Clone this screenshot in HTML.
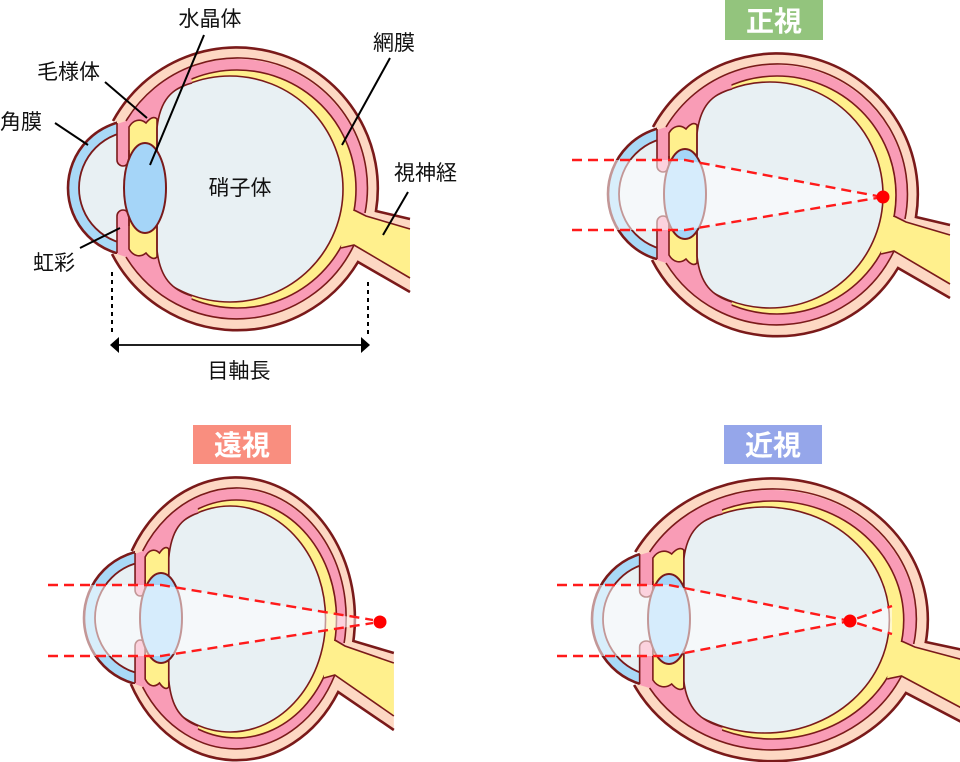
<!DOCTYPE html>
<html><head><meta charset="utf-8">
<style>
html,body{margin:0;padding:0;background:#fff;}
svg{display:block;}
.eb *{vector-effect:non-scaling-stroke;}
text{font-family:"Liberation Sans","Noto Sans CJK JP",sans-serif;}
</style></head>
<body>
<svg width="960" height="762" viewBox="0 0 960 762" xmlns="http://www.w3.org/2000/svg">

<!-- ===== EYE 1 (top-left) ===== -->
<g transform="translate(0,0)">
  <circle cx="136" cy="188" r="68" fill="#A9D9F7" stroke="#7A1A1A" stroke-width="2.6"/>
  <circle cx="136" cy="188" r="57" fill="#E8F0F3" stroke="#7A1A1A" stroke-width="1.8"/>
  <g class="eb" transform="translate(130,0) scale(1,1) translate(-130,0)">
    <path d="M113,121 A141,141 0 0 1 376,211 L410,219 L410,292 L358,262 A141,141 0 0 1 112,254 L117,254 L117,121 Z" fill="#FDD8C3"/>
    <path d="M126,121 A130,130 0 1 1 126,257 Z" fill="#F99CB6"/>
    <circle cx="237" cy="189" r="119" fill="#FFF08D" stroke="#7A1A1A" stroke-width="1.6"/>
    <circle cx="230" cy="189" r="113" fill="#E8F0F3" stroke="#7A1A1A" stroke-width="1.6"/>
    <path d="M190,68 A130,130 0 0 0 126,121 L117,124 L117,254 L126,257 A130,130 0 0 0 190,310 L192,296 C172,290 160,278 157,250 L157,128 C160,100 172,88 192,83 Z" fill="#F99CB6"/>
    <path d="M129,152 L129,127 C133,120 140,118 146,123 C150,118 154,116 157,119 L157,160 L129,160 Z" fill="#FFF08D" stroke="#7A1A1A" stroke-width="1.6"/>
    <path d="M129,224 L129,249 C133,256 140,258 146,253 C150,258 154,260 157,257 L157,216 L129,216 Z" fill="#FFF08D" stroke="#7A1A1A" stroke-width="1.6"/>
    <path d="M113,160 L117,160 A6,6 0 0 0 129,160 L136,160 L136,216 L129,216 A6,6 0 0 0 117,216 L113,216 Z" fill="#E8F0F3"/>
    <path d="M343,210 L354,211 L366,216 L410,229 L410,278 L354,245 L341,248 Z" fill="#FFF08D"/>
    <path d="M113,121 A141,141 0 0 1 376,211 L410,219 M410,292 L358,262 A141,141 0 0 1 112,254" fill="none" stroke="#7A1A1A" stroke-width="2.6"/>
    <path d="M126,121 A130,130 0 0 1 365,213 M354,245 A130,130 0 0 1 126,257" fill="none" stroke="#7A1A1A" stroke-width="1.6"/>
    <path d="M192,296 C172,290 160,278 157,250 L157,128 C160,100 172,88 192,83" fill="none" stroke="#7A1A1A" stroke-width="1.6"/>
    <path d="M117,123 L117,160 A6,6 0 0 0 129,160 L129,150 M117,253 L117,216 A6,6 0 0 1 129,216 L129,226" fill="none" stroke="#7A1A1A" stroke-width="1.6"/>
    <path d="M354,210 L366,216 L410,229 M410,278 L354,245 L341,248" fill="none" stroke="#7A1A1A" stroke-width="1.6"/>
  </g>
  <ellipse cx="145" cy="188" rx="21" ry="45" fill="#A5D5F8" stroke="#7A1A1A" stroke-width="2"/>
</g>

<!-- labels top-left -->
<g stroke="#000" stroke-width="2" fill="none">
  <line x1="204" y1="35" x2="150" y2="165"/>
  <line x1="390" y1="58" x2="342" y2="145"/>
  <line x1="105" y1="82" x2="147" y2="118"/>
  <line x1="55" y1="123" x2="88" y2="145"/>
  <line x1="80" y1="248" x2="120" y2="228"/>
  <line x1="408" y1="192" x2="383" y2="235"/>
  <line x1="112" y1="272" x2="112" y2="336" stroke-dasharray="4 4"/>
  <line x1="368" y1="282" x2="368" y2="336" stroke-dasharray="4 4"/>
  <line x1="117" y1="345" x2="362" y2="345" stroke-width="1.8"/>
</g>
<path d="M110,345 L119,337 L119,353 Z" fill="#000"/>
<path d="M370,345 L361,337 L361,353 Z" fill="#000"/>
<g font-size="21" fill="#111">
  <text x="210" y="26" text-anchor="middle">水晶体</text>
  <text x="373" y="50">網膜</text>
  <text x="37" y="79">毛様体</text>
  <text x="0" y="129">角膜</text>
  <text x="33" y="270">虹彩</text>
  <text x="240" y="195" text-anchor="middle">硝子体</text>
  <text x="394" y="180">視神経</text>
  <text x="239" y="378" text-anchor="middle">目軸長</text>
</g>

<!-- ===== EYE 2 (top-right, 正視) ===== -->
<g transform="translate(540,6)">
  <circle cx="136" cy="188" r="68" fill="#A9D9F7" stroke="#7A1A1A" stroke-width="2.6"/>
  <circle cx="136" cy="188" r="57" fill="#E8F0F3" stroke="#7A1A1A" stroke-width="1.8"/>
  <g class="eb" transform="translate(130,0) scale(1,1) translate(-130,0)">
    <path d="M113,121 A141,141 0 0 1 376,211 L410,219 L410,292 L358,262 A141,141 0 0 1 112,254 L117,254 L117,121 Z" fill="#FDD8C3"/>
    <path d="M126,121 A130,130 0 1 1 126,257 Z" fill="#F99CB6"/>
    <circle cx="237" cy="189" r="119" fill="#FFF08D" stroke="#7A1A1A" stroke-width="1.6"/>
    <circle cx="230" cy="189" r="113" fill="#E8F0F3" stroke="#7A1A1A" stroke-width="1.6"/>
    <path d="M190,68 A130,130 0 0 0 126,121 L117,124 L117,254 L126,257 A130,130 0 0 0 190,310 L192,296 C172,290 160,278 157,250 L157,128 C160,100 172,88 192,83 Z" fill="#F99CB6"/>
    <path d="M129,152 L129,127 C133,120 140,118 146,123 C150,118 154,116 157,119 L157,160 L129,160 Z" fill="#FFF08D" stroke="#7A1A1A" stroke-width="1.6"/>
    <path d="M129,224 L129,249 C133,256 140,258 146,253 C150,258 154,260 157,257 L157,216 L129,216 Z" fill="#FFF08D" stroke="#7A1A1A" stroke-width="1.6"/>
    <path d="M113,160 L117,160 A6,6 0 0 0 129,160 L136,160 L136,216 L129,216 A6,6 0 0 0 117,216 L113,216 Z" fill="#E8F0F3"/>
    <path d="M343,210 L354,211 L366,216 L410,229 L410,278 L354,245 L341,248 Z" fill="#FFF08D"/>
    <path d="M113,121 A141,141 0 0 1 376,211 L410,219 M410,292 L358,262 A141,141 0 0 1 112,254" fill="none" stroke="#7A1A1A" stroke-width="2.6"/>
    <path d="M126,121 A130,130 0 0 1 365,213 M354,245 A130,130 0 0 1 126,257" fill="none" stroke="#7A1A1A" stroke-width="1.6"/>
    <path d="M192,296 C172,290 160,278 157,250 L157,128 C160,100 172,88 192,83" fill="none" stroke="#7A1A1A" stroke-width="1.6"/>
    <path d="M117,123 L117,160 A6,6 0 0 0 129,160 L129,150 M117,253 L117,216 A6,6 0 0 1 129,216 L129,226" fill="none" stroke="#7A1A1A" stroke-width="1.6"/>
    <path d="M354,210 L366,216 L410,229 M410,278 L354,245 L341,248" fill="none" stroke="#7A1A1A" stroke-width="1.6"/>
  </g>
  <ellipse cx="145" cy="188" rx="21" ry="45" fill="#A5D5F8" stroke="#7A1A1A" stroke-width="2"/>
</g>
<path d="M572,160 L685,160 L883,197 L685,230 L572,230 Z" fill="#fff" fill-opacity="0.55"/>
<g fill="none" stroke="#FF1A1A" stroke-width="2.4" stroke-dasharray="10 6">
  <path d="M572,160 L685,160 L877,196"/>
  <path d="M572,230 L685,230 L877,198"/>
</g>
<circle cx="883" cy="197" r="6.5" fill="#FF0000"/>
<rect x="725" y="0" width="98" height="40" fill="#93C47D"/>
<text x="774" y="31" text-anchor="middle" font-size="28" font-weight="bold" fill="#fff">正視</text>

<!-- ===== EYE 3 (bottom-left, 遠視) ===== -->
<g transform="translate(16,430)">
  <circle cx="136" cy="188" r="68" fill="#A9D9F7" stroke="#7A1A1A" stroke-width="2.6"/>
  <circle cx="136" cy="188" r="57" fill="#E8F0F3" stroke="#7A1A1A" stroke-width="1.8"/>
  <g class="eb" transform="translate(130,0) scale(0.843,1) translate(-130,0)">
    <path d="M113,121 A141,141 0 0 1 376,211 L424,223 L424,300 L358,262 A141,141 0 0 1 112,254 L117,254 L117,121 Z" fill="#FDD8C3"/>
    <path d="M126,121 A130,130 0 1 1 126,257 Z" fill="#F99CB6"/>
    <circle cx="237" cy="189" r="119" fill="#FFF08D" stroke="#7A1A1A" stroke-width="1.6"/>
    <circle cx="230" cy="189" r="113" fill="#E8F0F3" stroke="#7A1A1A" stroke-width="1.6"/>
    <path d="M190,68 A130,130 0 0 0 126,121 L117,124 L117,254 L126,257 A130,130 0 0 0 190,310 L192,296 C172,290 160,278 157,250 L157,128 C160,100 172,88 192,83 Z" fill="#F99CB6"/>
    <path d="M129,152 L129,127 C133,120 140,118 146,123 C150,118 154,116 157,119 L157,160 L129,160 Z" fill="#FFF08D" stroke="#7A1A1A" stroke-width="1.6"/>
    <path d="M129,224 L129,249 C133,256 140,258 146,253 C150,258 154,260 157,257 L157,216 L129,216 Z" fill="#FFF08D" stroke="#7A1A1A" stroke-width="1.6"/>
    <path d="M113,160 L117,160 A6,6 0 0 0 129,160 L136,160 L136,216 L129,216 A6,6 0 0 0 117,216 L113,216 Z" fill="#E8F0F3"/>
    <path d="M343,210 L354,211 L366,216 L424,233 L424,286 L354,245 L341,248 Z" fill="#FFF08D"/>
    <path d="M113,121 A141,141 0 0 1 376,211 L424,223 M424,300 L358,262 A141,141 0 0 1 112,254" fill="none" stroke="#7A1A1A" stroke-width="2.6"/>
    <path d="M126,121 A130,130 0 0 1 365,213 M354,245 A130,130 0 0 1 126,257" fill="none" stroke="#7A1A1A" stroke-width="1.6"/>
    <path d="M192,296 C172,290 160,278 157,250 L157,128 C160,100 172,88 192,83" fill="none" stroke="#7A1A1A" stroke-width="1.6"/>
    <path d="M117,123 L117,160 A6,6 0 0 0 129,160 L129,150 M117,253 L117,216 A6,6 0 0 1 129,216 L129,226" fill="none" stroke="#7A1A1A" stroke-width="1.6"/>
    <path d="M354,210 L366,216 L424,233 M424,286 L354,245 L341,248" fill="none" stroke="#7A1A1A" stroke-width="1.6"/>
  </g>
  <ellipse cx="145" cy="188" rx="21" ry="45" fill="#A5D5F8" stroke="#7A1A1A" stroke-width="2"/>
</g>
<path d="M48,585 L161,585 L380,622 L161,656 L48,656 Z" fill="#fff" fill-opacity="0.55"/>
<g fill="none" stroke="#FF1A1A" stroke-width="2.4" stroke-dasharray="10 6">
  <path d="M48,585 L161,585 L373,620"/>
  <path d="M48,656 L161,656 L373,623"/>
</g>
<circle cx="380" cy="622" r="6.5" fill="#FF0000"/>
<rect x="193" y="425" width="98" height="39" fill="#F98E7F"/>
<text x="242" y="455" text-anchor="middle" font-size="28" font-weight="bold" fill="#fff">遠視</text>

<!-- ===== EYE 4 (bottom-right, 近視) ===== -->
<g transform="translate(524,431)">
  <circle cx="136" cy="188" r="68" fill="#A9D9F7" stroke="#7A1A1A" stroke-width="2.6"/>
  <circle cx="136" cy="188" r="57" fill="#E8F0F3" stroke="#7A1A1A" stroke-width="1.8"/>
  <g class="eb" transform="translate(130,0) scale(1.105,1) translate(-130,0)">
    <path d="M113,121 A141,141 0 0 1 376,211 L410,219 L410,292 L358,262 A141,141 0 0 1 112,254 L117,254 L117,121 Z" fill="#FDD8C3"/>
    <path d="M126,121 A130,130 0 1 1 126,257 Z" fill="#F99CB6"/>
    <circle cx="237" cy="189" r="119" fill="#FFF08D" stroke="#7A1A1A" stroke-width="1.6"/>
    <circle cx="230" cy="189" r="113" fill="#E8F0F3" stroke="#7A1A1A" stroke-width="1.6"/>
    <path d="M190,68 A130,130 0 0 0 126,121 L117,124 L117,254 L126,257 A130,130 0 0 0 190,310 L192,296 C172,290 160,278 157,250 L157,128 C160,100 172,88 192,83 Z" fill="#F99CB6"/>
    <path d="M129,152 L129,127 C133,120 140,118 146,123 C150,118 154,116 157,119 L157,160 L129,160 Z" fill="#FFF08D" stroke="#7A1A1A" stroke-width="1.6"/>
    <path d="M129,224 L129,249 C133,256 140,258 146,253 C150,258 154,260 157,257 L157,216 L129,216 Z" fill="#FFF08D" stroke="#7A1A1A" stroke-width="1.6"/>
    <path d="M113,160 L117,160 A6,6 0 0 0 129,160 L136,160 L136,216 L129,216 A6,6 0 0 0 117,216 L113,216 Z" fill="#E8F0F3"/>
    <path d="M343,210 L354,211 L366,216 L410,229 L410,278 L354,245 L341,248 Z" fill="#FFF08D"/>
    <path d="M113,121 A141,141 0 0 1 376,211 L410,219 M410,292 L358,262 A141,141 0 0 1 112,254" fill="none" stroke="#7A1A1A" stroke-width="2.6"/>
    <path d="M126,121 A130,130 0 0 1 365,213 M354,245 A130,130 0 0 1 126,257" fill="none" stroke="#7A1A1A" stroke-width="1.6"/>
    <path d="M192,296 C172,290 160,278 157,250 L157,128 C160,100 172,88 192,83" fill="none" stroke="#7A1A1A" stroke-width="1.6"/>
    <path d="M117,123 L117,160 A6,6 0 0 0 129,160 L129,150 M117,253 L117,216 A6,6 0 0 1 129,216 L129,226" fill="none" stroke="#7A1A1A" stroke-width="1.6"/>
    <path d="M354,210 L366,216 L410,229 M410,278 L354,245 L341,248" fill="none" stroke="#7A1A1A" stroke-width="1.6"/>
  </g>
  <ellipse cx="145" cy="188" rx="21" ry="45" fill="#A5D5F8" stroke="#7A1A1A" stroke-width="2"/>
</g>
<path d="M557,585 L669,585 L850,621 L669,656 L557,656 Z" fill="#fff" fill-opacity="0.55"/>
<path d="M850,621 L892,605 L892,635 Z" fill="#fff" fill-opacity="0.55"/>
<g fill="none" stroke="#FF1A1A" stroke-width="2.4" stroke-dasharray="10 6">
  <path d="M557,585 L669,585 L850,621 L892,634"/>
  <path d="M557,656 L669,656 L850,621 L892,606"/>
</g>
<circle cx="850" cy="621" r="6.5" fill="#FF0000"/>
<rect x="724" y="425" width="98" height="39" fill="#95A6EA"/>
<text x="773" y="455" text-anchor="middle" font-size="28" font-weight="bold" fill="#fff">近視</text>

</svg>
</body></html>
